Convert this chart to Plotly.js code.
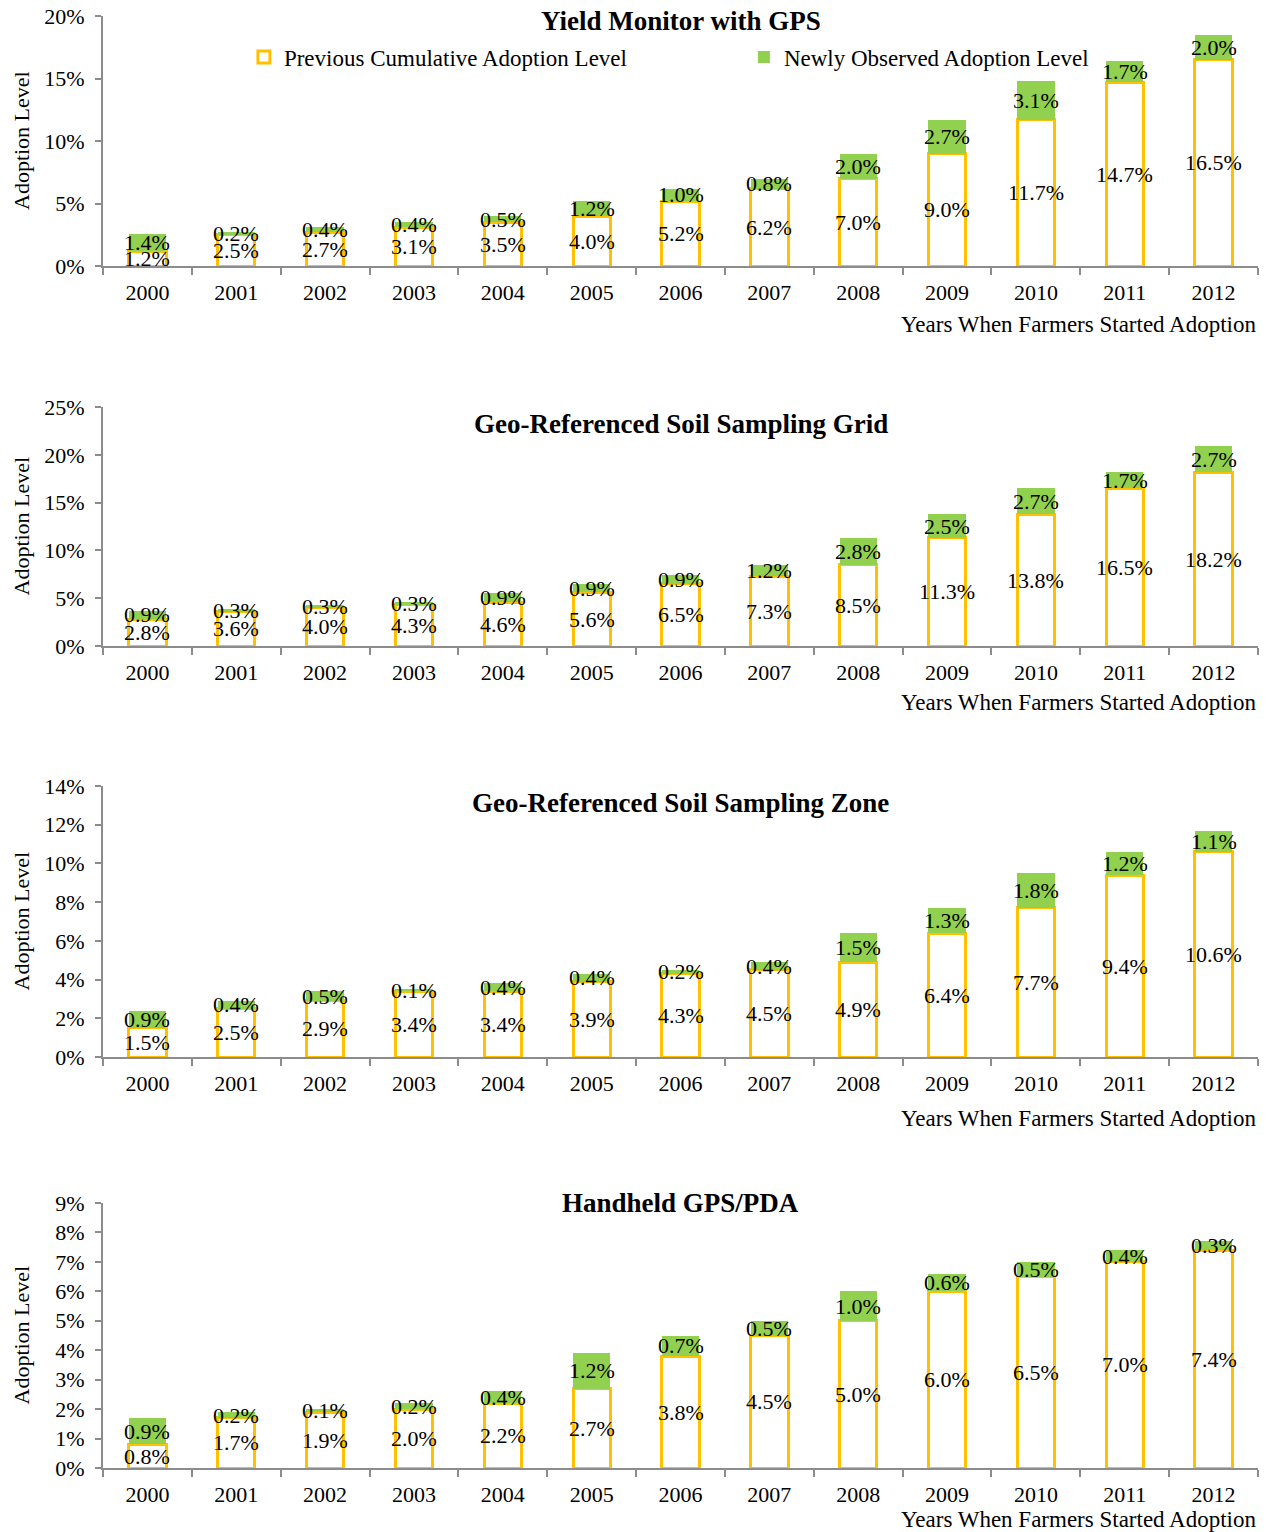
<!DOCTYPE html>
<html>
<head>
<meta charset="utf-8">
<script src="https://cdn.plot.ly/plotly-3.0.1.min.js"></script>
<style>html,body{margin:0;padding:0;background:#fff;}#chart{width:1270px;height:1532px;}</style>
</head>
<body>
<div id="chart"></div>
<script>
// ---- data ----
var years = ['2000','2001','2002','2003','2004','2005','2006','2007','2008','2009','2010','2011','2012'];

var titles = ['Yield Monitor with GPS', 'Geo-Referenced Soil Sampling Grid', 'Geo-Referenced Soil Sampling Zone', 'Handheld GPS/PDA'];

var yieldPrev = [1.2, 2.5, 2.7, 3.1, 3.5, 4.0, 5.2, 6.2, 7.0, 9.0, 11.7, 14.7, 16.5];
var yieldNew  = [1.4, 0.2, 0.4, 0.4, 0.5, 1.2, 1.0, 0.8, 2.0, 2.7, 3.1, 1.7, 2.0];

var gridPrev = [2.8, 3.6, 4.0, 4.3, 4.6, 5.6, 6.5, 7.3, 8.5, 11.3, 13.8, 16.5, 18.2];
var gridNew  = [0.9, 0.3, 0.3, 0.3, 0.9, 0.9, 0.9, 1.2, 2.8, 2.5, 2.7, 1.7, 2.7];

var zonePrev = [1.5, 2.5, 2.9, 3.4, 3.4, 3.9, 4.3, 4.5, 4.9, 6.4, 7.7, 9.4, 10.6];
var zoneNew  = [0.9, 0.4, 0.5, 0.1, 0.4, 0.4, 0.2, 0.4, 1.5, 1.3, 1.8, 1.2, 1.1];

var pdaPrev = [0.8, 1.7, 1.9, 2.0, 2.2, 2.7, 3.8, 4.5, 5.0, 6.0, 6.5, 7.0, 7.4];
var pdaNew  = [0.9, 0.2, 0.1, 0.2, 0.4, 1.2, 0.7, 0.5, 1.0, 0.6, 0.5, 0.4, 0.3];

var yMax  = [20, 25, 14, 9];
var yStep = [5, 5, 2, 1];

var prevName = 'Previous Cumulative Adoption Level';
var newName  = 'Newly Observed Adoption Level';
var xTitle   = 'Years When Farmers Started Adoption';
var yTitle   = 'Adoption Level';

// ---- build ----
var prevSets = [yieldPrev, gridPrev, zonePrev, pdaPrev];
var newSets  = [yieldNew, gridNew, zoneNew, pdaNew];

var FONT = 'Liberation Serif, Times New Roman, serif';
var ORANGE = '#FFC000';
var GREEN = '#92D050';
var AXIS = '#8c8c8c';

// vertical pixel layout (page is 1532 tall, no top/bottom margin)
var H = 1532, L = 103, PW = 1155;
var plotTop    = [16, 407, 786, 1203];
var plotBottom = [266, 646, 1057, 1468];
var titleY     = [21, 424, 803, 1203];
var xTitleY    = [324, 703, 1118, 1519];
function py(px){ return 1 - px / H; }
function px(p){ return (p - L) / PW; }

var traces = [];
var annotations = [];
var layout = {
  width: 1270, height: 1532,
  margin: {l: L, r: 12, t: 0, b: 0},
  paper_bgcolor: '#fff', plot_bgcolor: '#fff',
  barmode: 'stack', bargap: 0.58,
  font: {family: FONT, size: 22, color: '#000'},
  showlegend: true,
  legend: {
    orientation: 'h', x: 0.122, xanchor: 'left', y: py(57), yanchor: 'middle',
    font: {family: FONT, size: 23, color: '#000'},
    entrywidth: 455, entrywidthmode: 'pixels', itemwidth: 30,
    bgcolor: 'rgba(0,0,0,0)', traceorder: 'normal'
  },
  annotations: annotations
};

for (var i = 0; i < 4; i++) {
  var sfx = i === 0 ? '' : String(i + 1);
  var xa = 'x' + sfx, ya = 'y' + sfx;
  var prev = prevSets[i], nw = newSets[i];

  traces.push({
    type: 'bar', x: years, y: prev, xaxis: xa, yaxis: ya,
    name: prevName, showlegend: i === 0, legendgroup: 'prev',
    marker: {color: '#ffffff', line: {color: ORANGE, width: 3}},
    hoverinfo: 'skip'
  });
  traces.push({
    type: 'bar', x: years, y: nw, xaxis: xa, yaxis: ya,
    name: newName, showlegend: i === 0, legendgroup: 'new',
    marker: {color: GREEN, line: {width: 0}},
    hoverinfo: 'skip'
  });

  layout['xaxis' + sfx] = {
    anchor: ya, domain: [0, 1], type: 'category', range: [-0.5, 12.5],
    showline: true, linecolor: AXIS, linewidth: 2,
    ticks: 'outside', tickson: 'boundaries', ticklen: 7, tickcolor: AXIS, tickwidth: 2,
    ticklabelstandoff: 6,
    tickfont: {family: FONT, size: 22, color: '#000'},
    showgrid: false, zeroline: false, automargin: false, fixedrange: true
  };
  layout['yaxis' + sfx] = {
    anchor: xa, domain: [py(plotBottom[i]), py(plotTop[i])],
    range: [0, yMax[i]], dtick: yStep[i], tick0: 0, ticksuffix: '%',
    showline: true, linecolor: AXIS, linewidth: 2,
    ticks: 'outside', ticklen: 6, tickcolor: AXIS, tickwidth: 2,
    ticklabelstandoff: 6,
    tickfont: {family: FONT, size: 22, color: '#000'},
    showgrid: false, zeroline: false, automargin: false, fixedrange: true
  };

  // y-axis title (fixed horizontal position for every panel)
  annotations.push({
    xref: 'paper', yref: 'paper', x: px(21), y: (py(plotBottom[i]) + py(plotTop[i])) / 2,
    xanchor: 'center', yanchor: 'middle', textangle: -90,
    text: yTitle, showarrow: false,
    font: {family: FONT, size: 22, color: '#000'}
  });
  // subplot title
  annotations.push({
    xref: 'paper', yref: 'paper', x: 0.5, y: py(titleY[i]), xanchor: 'center', yanchor: 'middle',
    text: '<b>' + titles[i] + '</b>', showarrow: false,
    font: {family: FONT, size: 27, color: '#000'}
  });
  // x-axis title (right aligned)
  annotations.push({
    xref: 'paper', yref: 'paper', x: 1, y: py(xTitleY[i]), xanchor: 'right', yanchor: 'middle',
    text: xTitle, showarrow: false,
    font: {family: FONT, size: 23, color: '#000'}
  });
  // data labels (x given as category index so numeric-looking names are not misread)
  for (var k = 0; k < years.length; k++) {
    annotations.push({
      xref: xa, yref: ya, x: k, y: prev[k] / 2,
      text: prev[k].toFixed(1) + '%', showarrow: false,
      xanchor: 'center', yanchor: 'middle',
      font: {family: FONT, size: 22, color: '#000'}
    });
    annotations.push({
      xref: xa, yref: ya, x: k, y: prev[k] + nw[k] / 2,
      text: nw[k].toFixed(1) + '%', showarrow: false,
      xanchor: 'center', yanchor: 'middle',
      font: {family: FONT, size: 22, color: '#000'}
    });
  }
}

Plotly.newPlot('chart', traces, layout, {staticPlot: true, displayModeBar: false});
</script>
</body>
</html>
